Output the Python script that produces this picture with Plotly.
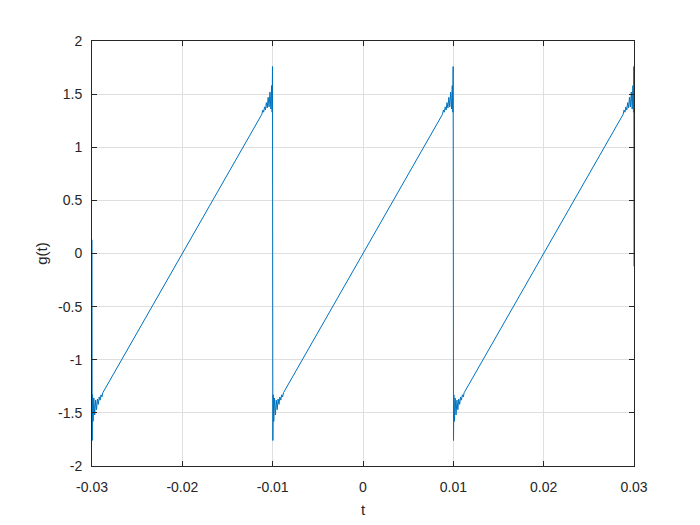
import plotly.graph_objects as go

# ---- data ----
# discontinuity (jump) times of the sawtooth inside the window
jump_times = [-0.03, -0.01, 0.01, 0.03]

# Gibbs ripple just AFTER a jump: offset (s) and g value
start_dt = [0.00002, 0.00006, 0.00012, 0.0002, 0.0003, 0.0004, 0.0005, 0.0006, 0.0007, 0.0008, 0.0009, 0.0010, 0.0011, 0.0012]
start_g = [-1.76, -1.33, -1.58, -1.36, -1.52, -1.38, -1.47, -1.37, -1.42, -1.35, -1.38, -1.33, -1.35, -1.31]

# Gibbs ripple just BEFORE a jump: offset (s) and g value
end_dt = [-0.0012, -0.0011, -0.0010, -0.0009, -0.0008, -0.0007, -0.0006, -0.0005, -0.0004, -0.0003, -0.0002, -0.00012, -0.00006, -0.00002]
end_g = [1.31, 1.35, 1.33, 1.38, 1.35, 1.42, 1.37, 1.47, 1.38, 1.52, 1.36, 1.58, 1.33, 1.76]

# values at the window edges
left_edge_g = [0.13, 0.0]
right_edge_g = [-0.12]

x_tickvals = [-0.03, -0.02, -0.01, 0, 0.01, 0.02, 0.03]
x_ticktext = ["-0.03", "-0.02", "-0.01", "0", "0.01", "0.02", "0.03"]
y_tickvals = [-2, -1.5, -1, -0.5, 0, 0.5, 1, 1.5, 2]
y_ticktext = ["-2", "-1.5", "-1", "-0.5", "0", "0.5", "1", "1.5", "2"]

# ---- assemble the trace ----
t, g = [], []
for v in left_edge_g:
    t.append(jump_times[0]); g.append(v)
for k in range(len(jump_times) - 1):
    tl, tr = jump_times[k], jump_times[k + 1]
    for d, v in zip(start_dt, start_g):
        t.append(tl + d); g.append(v)
    for d, v in zip(end_dt, end_g):
        t.append(tr + d); g.append(v)
for v in right_edge_g:
    t.append(jump_times[-1]); g.append(v)

fig = go.Figure(go.Scatter(x=t, y=g, mode="lines",
                           line=dict(color="#0072BD", width=1),
                           showlegend=False, hoverinfo="skip"))

axis_common = dict(showgrid=True, gridcolor="#dfdfdf", gridwidth=1,
                   zeroline=False, showline=True, linecolor="#262626",
                   linewidth=1, mirror="ticks", ticks="inside", ticklen=5,
                   tickcolor="#262626",
                   tickfont=dict(family="Liberation Sans, Arial", size=14, color="#262626"))

fig.update_layout(
    width=700, height=525,
    margin=dict(l=84, r=74, t=33, b=67),
    paper_bgcolor="white", plot_bgcolor="white",
    font=dict(family="Liberation Sans, Arial", size=14, color="#262626"),
    xaxis=dict(range=[-0.03, 0.03], tickvals=x_tickvals, ticktext=x_ticktext,
               ticklabelstandoff=8,
               title=dict(text="t", standoff=10, font=dict(size=15)), **axis_common),
    yaxis=dict(range=[-2, 2], tickvals=y_tickvals, ticktext=y_ticktext,
               ticklabelstandoff=6,
               title=dict(text="g(t)", standoff=6, font=dict(size=15)), **axis_common),
)

fig.write_html("out.html")
